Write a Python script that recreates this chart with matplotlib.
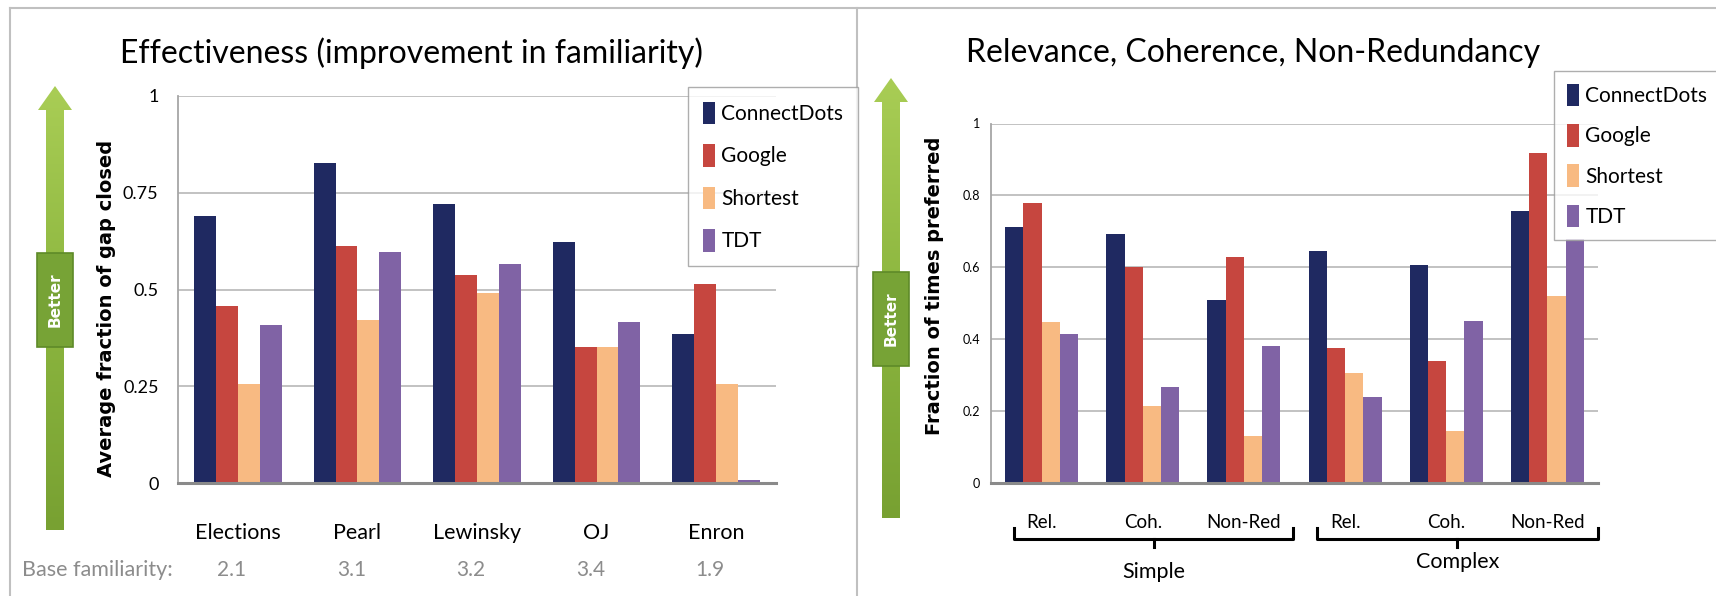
import numpy as np
import matplotlib
matplotlib.use("Agg")
import matplotlib.pyplot as plt
from matplotlib.patches import Polygon, Rectangle, Patch
from matplotlib.colors import LinearSegmentedColormap

plt.rcParams['font.family'] = ['Lato', 'DejaVu Sans']

# ---- data ----
methods = ['ConnectDots', 'Google', 'Shortest', 'TDT']
colors = ['#1f2961', '#c6463f', '#f8ba82', '#8063a5']

stories = ['Elections', 'Pearl', 'Lewinsky', 'OJ', 'Enron']
base_familiarity = ['2.1', '3.1', '3.2', '3.4', '1.9']
eff_connectdots = [0.69, 0.826, 0.722, 0.624, 0.385]
eff_google = [0.458, 0.612, 0.538, 0.352, 0.514]
eff_shortest = [0.256, 0.422, 0.491, 0.352, 0.256]
eff_tdt = [0.407, 0.598, 0.565, 0.415, 0.008]

criteria = ['Rel.', 'Coh.', 'Non-Red', 'Rel.', 'Coh.', 'Non-Red']
groups = ['Simple', 'Complex']
pref_connectdots = [0.713, 0.694, 0.508, 0.646, 0.607, 0.757]
pref_google = [0.778, 0.601, 0.628, 0.375, 0.340, 0.918]
pref_shortest = [0.449, 0.213, 0.131, 0.306, 0.145, 0.520]
pref_tdt = [0.414, 0.266, 0.382, 0.238, 0.451, 0.678]

W, H = 1716, 596
fig = plt.figure(figsize=(W / 100, H / 100), dpi=100)

# overlay in pixel coordinates for decorations (frames, arrows)
deco = fig.add_axes([0, 0, 1, 1])
deco.set_xlim(0, W)
deco.set_ylim(H, 0)
deco.axis('off')

frame_col = '#c0c0c0'
deco.plot([10, 10], [8, H], color=frame_col, lw=1.5)
deco.plot([10, W], [8, 8], color=frame_col, lw=1.5)
deco.plot([857, 857], [8, H], color=frame_col, lw=1.5)

green_cmap = LinearSegmentedColormap.from_list('g', ['#a9cd55', '#8cb63f', '#78a132'])


def better_arrow(cx, top, bottom, box_top, box_bot):
    sw, hw, hl = 9, 17, 24
    pts = [(cx - sw, bottom), (cx - sw, top + hl), (cx - hw, top + hl), (cx, top),
           (cx + hw, top + hl), (cx + sw, top + hl), (cx + sw, bottom)]
    poly = Polygon(pts, closed=True, facecolor='none', edgecolor='none')
    deco.add_patch(poly)
    grad = np.linspace(0, 1, 200).reshape(-1, 1)
    im = deco.imshow(grad, cmap=green_cmap, aspect='auto',
                     extent=[cx - hw, cx + hw, bottom, top], zorder=2)
    im.set_clip_path(poly)
    bw = 18
    deco.add_patch(Rectangle((cx - bw, box_top), 2 * bw, box_bot - box_top,
                             facecolor='#77a336', edgecolor='#5e8a28', lw=1.2, zorder=3))
    deco.text(cx, (box_top + box_bot) / 2, 'Better', rotation=90, color='white',
              fontsize=11, fontweight='bold', ha='center', va='center',
              family='DejaVu Sans', zorder=4)


better_arrow(55, 86, 530, 253, 347)
better_arrow(891, 78, 518, 272, 366)
deco.set_xlim(0, W)
deco.set_ylim(H, 0)


def style_axes(ax, yticks, ticklabels, tick_fs, tick_pad):
    ax.set_ylim(0, 1)
    ax.set_yticks(yticks)
    ax.set_yticklabels(ticklabels, fontsize=tick_fs)
    ax.yaxis.grid(True, color='#bdbdbd', lw=1.3)
    ax.set_axisbelow(True)
    for s in ['top', 'right']:
        ax.spines[s].set_visible(False)
    ax.spines['left'].set_color('#a6a6a6')
    ax.spines['left'].set_linewidth(1.3)
    ax.spines['bottom'].set_color('#8a8a8a')
    ax.spines['bottom'].set_linewidth(2.2)
    ax.tick_params(axis='both', length=0)
    ax.tick_params(axis='y', pad=tick_pad)


# ---- left chart ----
ax1 = fig.add_axes([178 / W, 1 - 483 / H, 598 / W, 387 / H])
x = np.arange(len(stories))
bw = 0.183
for k, vals in enumerate([eff_connectdots, eff_google, eff_shortest, eff_tdt]):
    ax1.bar(x + (k - 1.5) * bw, vals, width=bw, color=colors[k], label=methods[k])
ax1.set_xlim(-0.5, len(stories) - 0.5)
style_axes(ax1, [0, 0.25, 0.5, 0.75, 1], ['0', '0.25', '0.5', '0.75', '1'], 13, 14)
ax1.set_xticks(x)
ax1.set_xticklabels(stories, fontsize=15.5)
ax1.tick_params(axis='x', pad=29)
ax1.set_ylabel('Average fraction of gap closed', fontsize=14, fontweight='bold',
               family='DejaVu Sans')
ax1.yaxis.set_label_coords(-0.104, 0.45)
tr1 = ax1.get_xaxis_transform()
for i, b in enumerate(base_familiarity):
    ax1.text(i - 0.05, -0.225, b, transform=tr1, ha='center', va='center',
             fontsize=15, color='#8c8c8c')
fig.text(22 / W, 1 - 570 / H, 'Base familiarity:', ha='left', va='center',
         fontsize=15.5, color='#8c8c8c')
fig.text(411 / W, 1 - 53 / H, 'Effectiveness (improvement in familiarity)',
         ha='center', va='center', fontsize=23)

handles = [Patch(facecolor=c, edgecolor='none') for c in colors]
fig.legend(handles, methods, loc='upper left', bbox_to_anchor=(688 / W, 1 - 87 / H),
           fontsize=15, frameon=True, fancybox=False, edgecolor='#9a9a9a',
           handlelength=0.6, handleheight=1.3, handletextpad=0.3,
           labelspacing=0.95, borderpad=0.7, borderaxespad=0)

# ---- right chart ----
ax2 = fig.add_axes([991 / W, 1 - 483 / H, 607 / W, 359.5 / H])
x2 = np.arange(len(criteria))
bw2 = 0.18
for k, vals in enumerate([pref_connectdots, pref_google, pref_shortest, pref_tdt]):
    ax2.bar(x2 + (k - 1.5) * bw2, vals, width=bw2, color=colors[k], label=methods[k])
ax2.set_xlim(-0.5, len(criteria) - 0.5)
style_axes(ax2, [0, 0.2, 0.4, 0.6, 0.8, 1], ['0', '0.2', '0.4', '0.6', '0.8', '1'], 9, 8)
ax2.set_xticks(x2)
ax2.set_xticklabels(criteria, fontsize=13.5)
ax2.tick_params(axis='x', pad=22)
ax2.set_ylabel('Fraction of times preferred', fontsize=14, fontweight='bold',
               family='DejaVu Sans')
ax2.yaxis.set_label_coords(-0.077, 0.549)
fig.text(1253 / W, 1 - 53 / H, 'Relevance, Coherence, Non-Redundancy',
         ha='center', va='center', fontsize=23)
fig.legend(handles, methods, loc='upper left', bbox_to_anchor=(1554 / W, 1 - 71 / H),
           fontsize=15, frameon=True, fancybox=False, edgecolor='#9a9a9a',
           handlelength=0.6, handleheight=1.3, handletextpad=0.3,
           labelspacing=0.85, borderpad=0.6, borderaxespad=0)

# braces under the two groups
tr2 = ax2.get_xaxis_transform()
brace_spans = [(-0.27, 2.49), (2.72, 5.5)]
label_y = [-0.248, -0.22]
for (a, b), g, ly in zip(brace_spans, groups, label_y):
    y0, y1, y2 = -0.125, -0.156, -0.178
    m = (a + b) / 2
    ax2.plot([a, a, b, b], [y0, y1, y1, y0], color='black', lw=2.2,
             transform=tr2, clip_on=False, solid_joinstyle='round')
    ax2.plot([m, m], [y1, y2], color='black', lw=2.2, transform=tr2, clip_on=False)
    ax2.text(m, ly, g, transform=tr2, ha='center', va='center', fontsize=15.5)

fig.savefig('out.png', dpi=100, facecolor='white')
